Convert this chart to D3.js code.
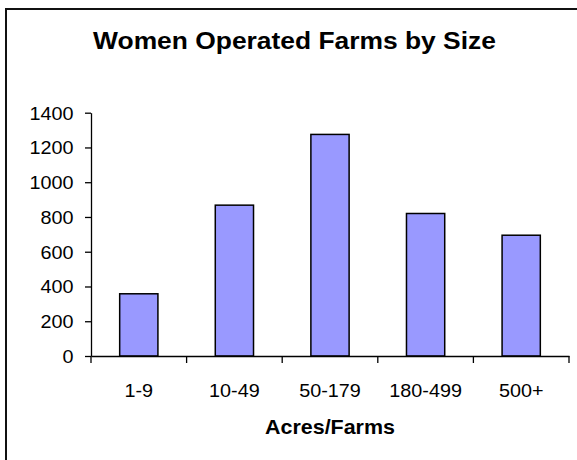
<!DOCTYPE html>
<html>
<head>
<meta charset="utf-8">
<script src="https://cdn.jsdelivr.net/npm/d3@7"></script>
<style>
  html, body { margin: 0; padding: 0; background: #fff; }
  svg { display: block; }
  text { font-family: "Liberation Sans", Arial, sans-serif; fill: #000; }
</style>
</head>
<body>
<svg id="chart" width="577" height="460"></svg>
<script>
const categories = ["1-9", "10-49", "50-179", "180-499", "500+"];
const values = [358, 868, 1275, 820, 695];
const yTicks = [0, 200, 400, 600, 800, 1000, 1200, 1400];
const chartTitle = "Women Operated Farms by Size";
const xTitle = "Acres/Farms";

const W = 577, H = 460;
const sx = 1.1; // horizontal stretch of the original rendering
const plot = { left: 91, right: 569, top: 112.7, bottom: 356 };

const svg = d3.select("#chart");

// chart frame
svg.append("rect")
  .attr("x", 6).attr("y", 9)
  .attr("width", W + 20).attr("height", H + 20)
  .attr("fill", "#fff").attr("stroke", "#111").attr("stroke-width", 2);

const x = d3.scaleBand().domain(categories).range([plot.left, plot.right]).padding(0);
const y = d3.scaleLinear().domain([0, 1400]).range([plot.bottom, plot.top]);

function stretchedText(g, tx, ty, str, size, weight, anchor) {
  return g.append("text")
    .attr("transform", `translate(${tx},${ty}) scale(${sx},1)`)
    .attr("text-anchor", anchor)
    .attr("font-size", size)
    .attr("font-weight", weight)
    .text(str);
}

// title
stretchedText(svg, 294.5, 49, chartTitle, 24, "bold", "middle");

// bars
svg.append("g").selectAll("rect")
  .data(values)
  .join("rect")
  .attr("x", (d, i) => x(categories[i]) + x.bandwidth() * 0.3)
  .attr("width", x.bandwidth() * 0.4)
  .attr("y", d => y(d))
  .attr("height", d => y(0) - y(d))
  .attr("fill", "#9999FF")
  .attr("stroke", "#000")
  .attr("stroke-width", 1.5);

// y axis
const yAxis = d3.axisLeft(y).tickValues(yTicks).tickSizeInner(6).tickSizeOuter(0).tickFormat(d3.format("d"));
const gy = svg.append("g").attr("transform", `translate(${plot.left},0)`).call(yAxis);
gy.select(".domain").attr("stroke", "#000").attr("stroke-width", 1.3);
gy.selectAll(".tick line").attr("stroke", "#000").attr("stroke-width", 1.3);
gy.selectAll(".tick text").remove();
gy.selectAll(".tick").each(function(d) {
  stretchedText(d3.select(this), -17.5, 6.5, d3.format("d")(d), 18, "normal", "end");
});

// x axis
const xAxis = d3.axisBottom(x).tickSize(0).tickSizeOuter(0);
const gx = svg.append("g").attr("transform", `translate(0,${plot.bottom})`).call(xAxis);
gx.select(".domain").attr("stroke", "#000").attr("stroke-width", 1.3);
gx.selectAll(".tick text").remove();
gx.selectAll(".tick").each(function(d) {
  stretchedText(d3.select(this), 0, 40.5, d, 18, "normal", "middle");
});
// boundary tick marks
const bounds = categories.map(c => x(c)).concat([x(categories[categories.length - 1]) + x.bandwidth()]);
gx.append("g").selectAll("line")
  .data(bounds)
  .join("line")
  .attr("x1", d => d).attr("x2", d => d)
  .attr("y1", 0).attr("y2", 7)
  .attr("stroke", "#000").attr("stroke-width", 1.3);

// x axis title
stretchedText(svg, (plot.left + plot.right) / 2, 434, xTitle, 19.5, "bold", "middle");
</script>
</body>
</html>
